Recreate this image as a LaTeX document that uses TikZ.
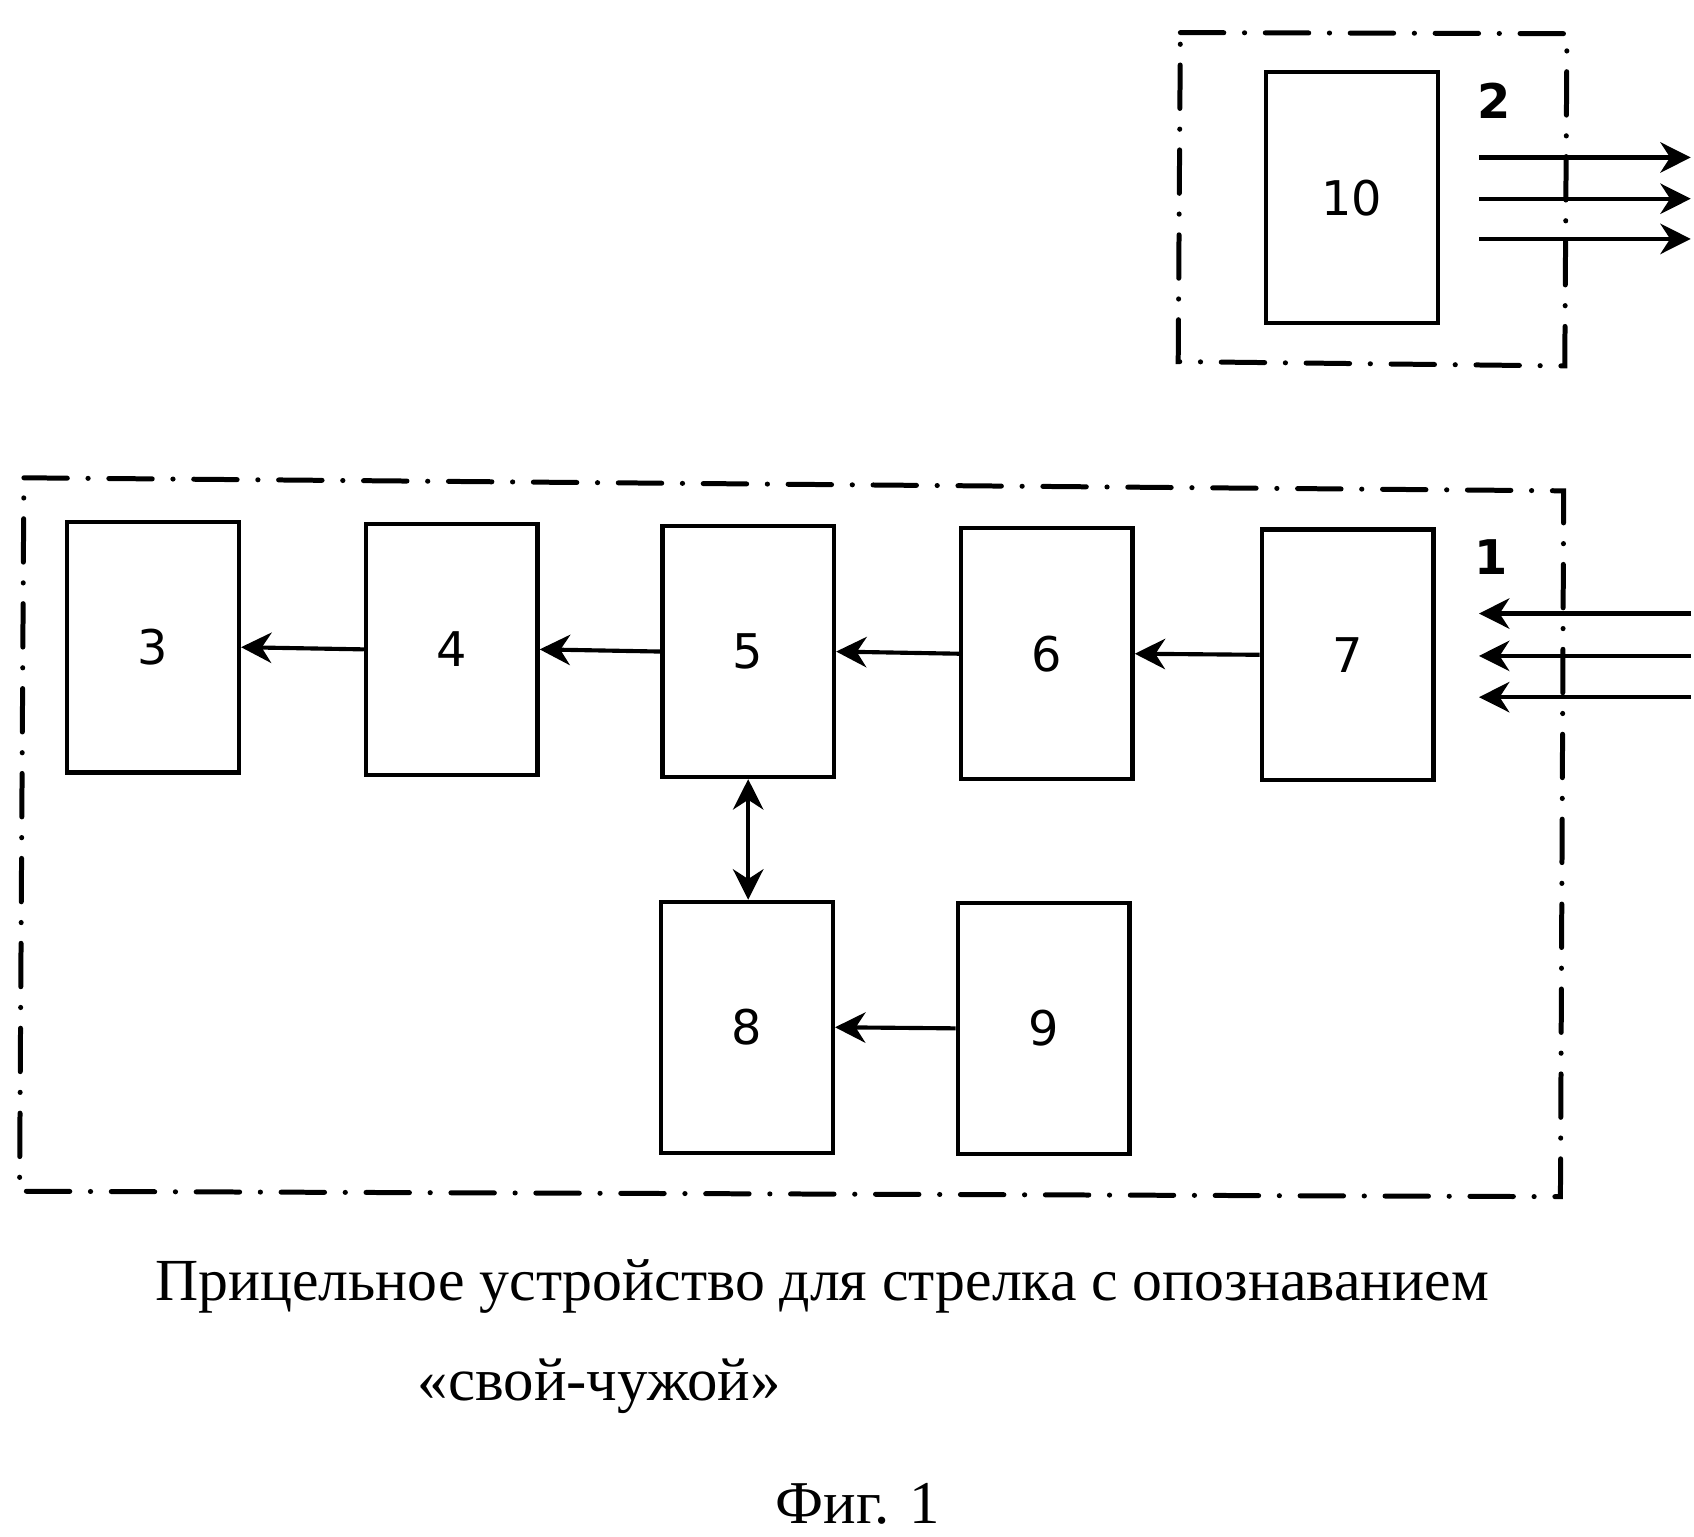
\documentclass[tikz,border=0pt]{standalone}
\usepackage{fontspec}
\setmainfont{Liberation Serif}
\newfontfamily\cifry{DejaVu Sans}
\usetikzlibrary{arrows.meta}

\begin{document}
\begin{tikzpicture}[x=0.5pt,y=-0.5pt,
  blok/.style={draw, line width=2pt, minimum width=79pt, minimum height=115.5pt, inner sep=0pt, font=\cifry\fontsize{22}{26}\selectfont},
  strelka/.style={line width=1.9pt, -{Stealth[length=14pt,width=14pt,inset=4.5pt]}},
  dvustr/.style={line width=1.9pt, {Stealth[length=14pt,width=14pt,inset=4.5pt]}-{Stealth[length=14pt,width=14pt,inset=4.5pt]}},
  ramka/.style={line width=2.3pt, dash pattern=on 20pt off 9.5pt on 0.1pt off 9.5pt, line cap=round},
  metka/.style={font=\cifry\bfseries\fontsize{22}{26}\selectfont},
  podpis/.style={anchor=base, font=\fontsize{28}{34}\selectfont}]
\useasboundingbox (0,0) rectangle (1560,1415);
\draw[ramka] (1087,30)--(1443,31)--(1441,337)--(1085,333)--cycle;
\draw[ramka] (22,440)--(1440,452)--(1437,1102)--(18,1097)--cycle;
\node[blok] (b10) at (1245,182) {10};
\node[blok] (b3) at (141,596) {3};
\node[blok] (b4) at (416,598) {4};
\node[blok] (b5) at (689,600) {5};
\node[blok] (b6) at (964,602) {6};
\node[blok] (b7) at (1241,603) {7};
\node[blok] (b8) at (688,946) {8};
\node[blok] (b9) at (961,947) {9};
\node[metka] (m2) at (1376,93) {2};
\node[metka] (m1) at (1373,513) {1};
\draw[strelka] (b4.west) -- (b3.east);
\draw[strelka] (b5.west) -- (b4.east);
\draw[strelka] (b6.west) -- (b5.east);
\draw[strelka] (b7.west) -- (b6.east);
\draw[strelka] (b9.west) -- (b8.east);
\draw[dvustr] (b5.south) -- (b5.south |- b8.north);
\foreach \y/\n in {145/a,183/b,220/c}{
  \coordinate (iz\n) at (1362,\y);
  \coordinate (vy\n) at (1557,\y);
  \draw[strelka] (iz\n) -- (vy\n);
}
\foreach \y/\n in {565/a,604/b,642/c}{
  \coordinate (sn\n) at (1557,\y);
  \coordinate (vh\n) at (1362,\y);
  \draw[strelka] (sn\n) -- (vh\n);
}
\node[podpis, font=\fontsize{27.5}{34}\selectfont] (nazv) at (757,1198) {Прицельное устройство для стрелка с опознаванием};
\node[podpis] (svoj) at (552,1290) {«свой-чужой»};
\node[podpis] (fig) at (790,1403) {Фиг. 1};
\end{tikzpicture}
\end{document}
